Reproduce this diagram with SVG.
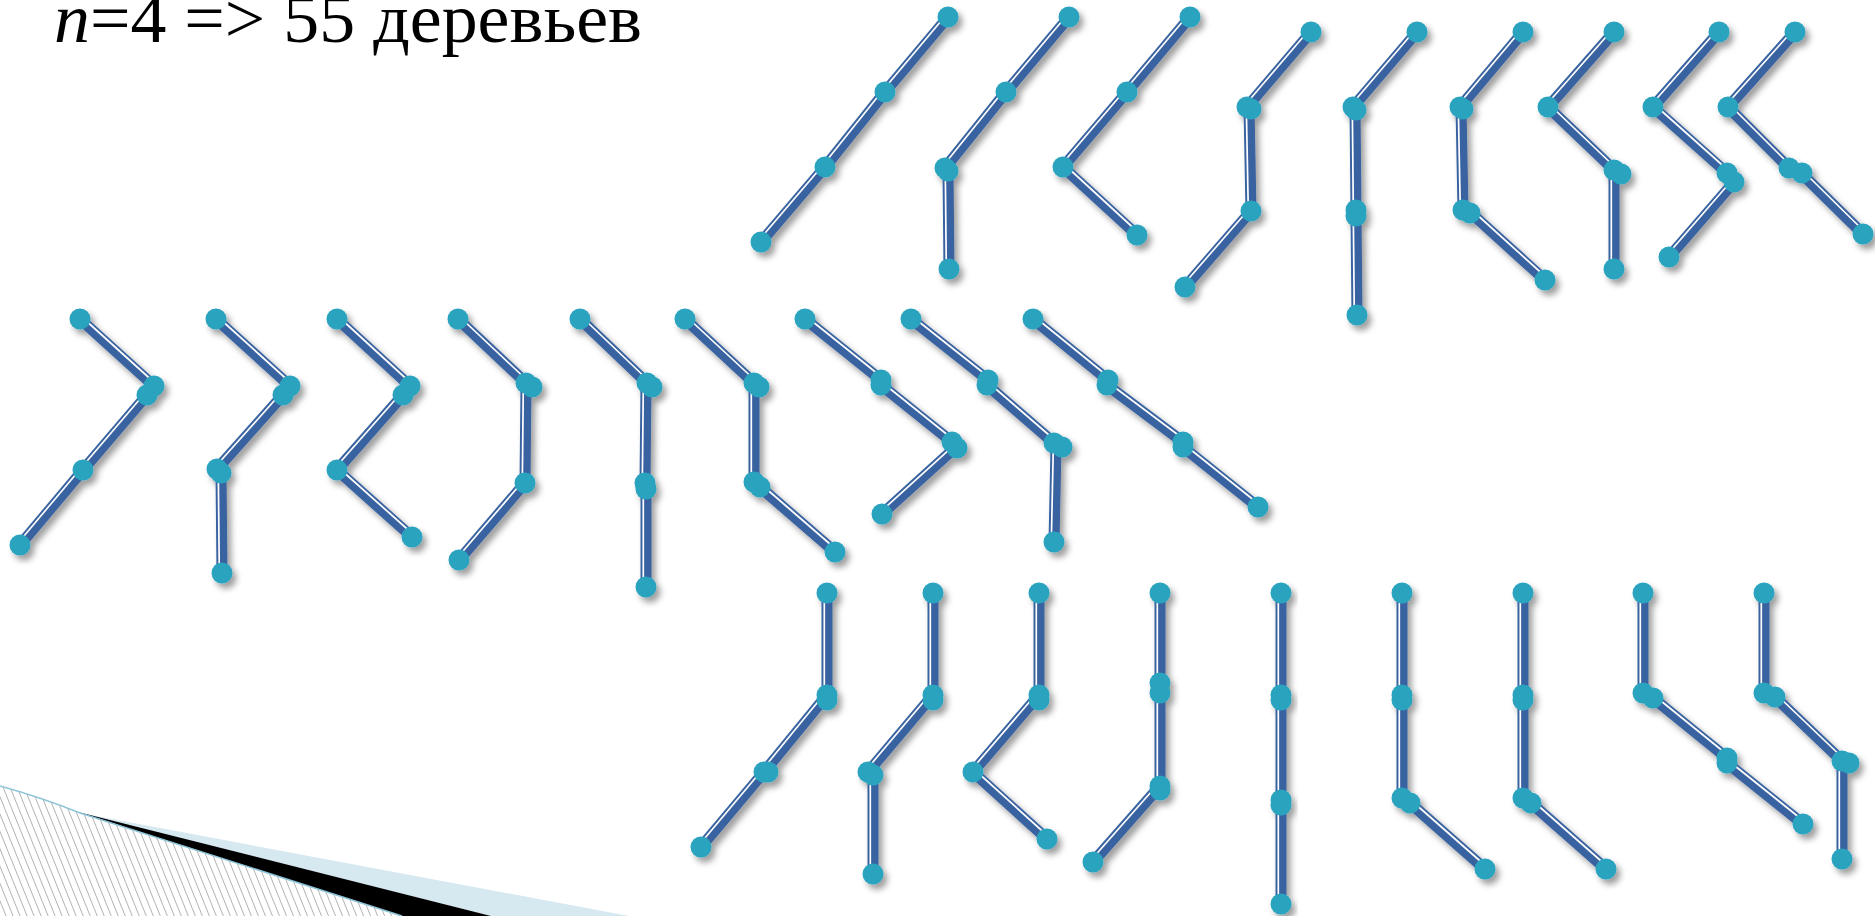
<svg xmlns="http://www.w3.org/2000/svg" width="1875" height="916" viewBox="0 0 1875 916">
<style>
.e{stroke:#3862A0;stroke-width:11;fill:none}
.w{stroke:#ffffff;stroke-width:1.7;fill:none}
.v{transform:translate(-2.7px,0)}
.l{transform:translate(-2.1px,-1.7px)}
.r{transform:translate(1.9px,-2px)}
.n{fill:#2BA3BF}
.t{font-family:"Liberation Serif","Times New Roman",serif;font-size:70px;fill:#000}
</style>
<defs>
<filter id="sh" x="-20%" y="-20%" width="150%" height="150%">
<feDropShadow dx="4" dy="5" stdDeviation="3" flood-color="#000" flood-opacity="0.38"/>
</filter>
<pattern id="hatch" patternUnits="userSpaceOnUse" width="6.5" height="20" patternTransform="rotate(-22)">
<rect width="6.5" height="20" fill="#fff"/>
<line x1="0.5" y1="0" x2="0.5" y2="20" stroke="#a0a0a0" stroke-width="0.8"/>
</pattern>
</defs>
<rect width="1875" height="916" fill="#fff"/>

<g id="decor">
<path d="M0,786 Q40,797 80,813 L402,916 L0,916 Z" fill="url(#hatch)"/>
<path d="M80,813 L629,916 L491,916 Z" fill="#D6E8F0"/>
<path d="M78,812 L491,916 L402,916 Z" fill="#000"/>
<path d="M0,786 Q40,797 80,813 L402,916" fill="none" stroke="#8CC4D8" stroke-width="1.5"/>
</g>

<text id="title" class="t" x="54" y="42" textLength="588" lengthAdjust="spacingAndGlyphs"><tspan font-style="italic">n</tspan>=4 =&gt; 55 деревьев</text>

<!-- top row -->
<g id="t1" filter="url(#sh)">
<g class="conn">
<line class="e" x1="948" y1="17" x2="885" y2="92"/><line class="w l" x1="948" y1="17" x2="885" y2="92"/>
<line class="e" x1="885" y1="92" x2="825" y2="167"/><line class="w l" x1="885" y1="92" x2="825" y2="167"/>
<line class="e" x1="825" y1="167" x2="761" y2="242"/><line class="w l" x1="825" y1="167" x2="761" y2="242"/>
</g>
<circle class="n" cx="948" cy="17" r="10.5"/><circle class="n" cx="885" cy="92" r="10.5"/><circle class="n" cx="825" cy="167" r="10.5"/><circle class="n" cx="761" cy="242" r="10.5"/>
</g>
<g id="t2" filter="url(#sh)">
<g class="conn">
<line class="e" x1="1069" y1="17" x2="1006" y2="92"/><line class="w l" x1="1069" y1="17" x2="1006" y2="92"/>
<line class="e" x1="1006" y1="92" x2="945" y2="168"/><line class="w l" x1="1006" y1="92" x2="945" y2="168"/>
<line class="e" x1="948" y1="171" x2="949" y2="269"/><line class="w v" x1="948" y1="171" x2="949" y2="269"/>
</g>
<circle class="n" cx="1069" cy="17" r="10.5"/><circle class="n" cx="1006" cy="92" r="10.5"/><circle class="n" cx="948" cy="171" r="10.5"/><circle class="n" cx="945" cy="168" r="10.5"/><circle class="n" cx="949" cy="269" r="10.5"/>
</g>
<g id="t3" filter="url(#sh)">
<g class="conn">
<line class="e" x1="1190" y1="17" x2="1127" y2="92"/><line class="w l" x1="1190" y1="17" x2="1127" y2="92"/>
<line class="e" x1="1127" y1="92" x2="1063" y2="167"/><line class="w l" x1="1127" y1="92" x2="1063" y2="167"/>
<line class="e" x1="1063" y1="167" x2="1137" y2="235"/><line class="w r" x1="1063" y1="167" x2="1137" y2="235"/>
</g>
<circle class="n" cx="1190" cy="17" r="10.5"/><circle class="n" cx="1127" cy="92" r="10.5"/><circle class="n" cx="1063" cy="167" r="10.5"/><circle class="n" cx="1137" cy="235" r="10.5"/>
</g>
<g id="t4" filter="url(#sh)">
<g class="conn">
<line class="e" x1="1311" y1="32" x2="1247" y2="107"/><line class="w l" x1="1311" y1="32" x2="1247" y2="107"/>
<line class="e" x1="1249" y1="107" x2="1251" y2="211"/><line class="w v" x1="1249" y1="107" x2="1251" y2="211"/>
<line class="e" x1="1251" y1="211" x2="1185" y2="287"/><line class="w l" x1="1251" y1="211" x2="1185" y2="287"/>
</g>
<circle class="n" cx="1311" cy="32" r="10.5"/><circle class="n" cx="1247" cy="107" r="10.5"/><circle class="n" cx="1251" cy="109" r="10.5"/><circle class="n" cx="1251" cy="211" r="10.5"/><circle class="n" cx="1185" cy="287" r="10.5"/>
</g>
<g id="t5" filter="url(#sh)">
<g class="conn">
<line class="e" x1="1417" y1="32" x2="1353" y2="107"/><line class="w l" x1="1417" y1="32" x2="1353" y2="107"/>
<line class="e" x1="1355" y1="107" x2="1356" y2="210"/><line class="w v" x1="1355" y1="107" x2="1356" y2="210"/>
<line class="e" x1="1356" y1="215" x2="1357" y2="315"/><line class="w v" x1="1356" y1="215" x2="1357" y2="315"/>
</g>
<circle class="n" cx="1417" cy="32" r="10.5"/><circle class="n" cx="1353" cy="107" r="10.5"/><circle class="n" cx="1356" cy="110" r="10.5"/><circle class="n" cx="1356" cy="210" r="10.5"/><circle class="n" cx="1356" cy="216" r="10.5"/><circle class="n" cx="1357" cy="315" r="10.5"/>
</g>
<g id="t6" filter="url(#sh)">
<g class="conn">
<line class="e" x1="1523" y1="32" x2="1460" y2="107"/><line class="w l" x1="1523" y1="32" x2="1460" y2="107"/>
<line class="e" x1="1461" y1="107" x2="1463" y2="210"/><line class="w v" x1="1461" y1="107" x2="1463" y2="210"/>
<line class="e" x1="1471" y1="213" x2="1545" y2="280"/><line class="w r" x1="1471" y1="213" x2="1545" y2="280"/>
</g>
<circle class="n" cx="1523" cy="32" r="10.5"/><circle class="n" cx="1460" cy="107" r="10.5"/><circle class="n" cx="1463" cy="109" r="10.5"/><circle class="n" cx="1463" cy="210" r="10.5"/><circle class="n" cx="1470" cy="213" r="10.5"/><circle class="n" cx="1545" cy="280" r="10.5"/>
</g>
<g id="t7" filter="url(#sh)">
<g class="conn">
<line class="e" x1="1614" y1="32" x2="1548" y2="107"/><line class="w l" x1="1614" y1="32" x2="1548" y2="107"/>
<line class="e" x1="1548" y1="107" x2="1614" y2="170"/><line class="w r" x1="1548" y1="107" x2="1614" y2="170"/>
<line class="e" x1="1614" y1="174" x2="1614" y2="269"/><line class="w v" x1="1614" y1="174" x2="1614" y2="269"/>
</g>
<circle class="n" cx="1614" cy="32" r="10.5"/><circle class="n" cx="1548" cy="107" r="10.5"/><circle class="n" cx="1621" cy="174" r="10.5"/><circle class="n" cx="1614" cy="170" r="10.5"/><circle class="n" cx="1614" cy="269" r="10.5"/>
</g>
<g id="t8" filter="url(#sh)">
<g class="conn">
<line class="e" x1="1719" y1="32" x2="1653" y2="107"/><line class="w l" x1="1719" y1="32" x2="1653" y2="107"/>
<line class="e" x1="1653" y1="107" x2="1727" y2="173"/><line class="w r" x1="1653" y1="107" x2="1727" y2="173"/>
<line class="e" x1="1734" y1="182" x2="1669" y2="257"/><line class="w l" x1="1734" y1="182" x2="1669" y2="257"/>
</g>
<circle class="n" cx="1719" cy="32" r="10.5"/><circle class="n" cx="1653" cy="107" r="10.5"/><circle class="n" cx="1727" cy="173" r="10.5"/><circle class="n" cx="1734" cy="182" r="10.5"/><circle class="n" cx="1669" cy="257" r="10.5"/>
</g>
<g id="t9" filter="url(#sh)">
<g class="conn">
<line class="e" x1="1795" y1="32" x2="1728" y2="107"/><line class="w l" x1="1795" y1="32" x2="1728" y2="107"/>
<line class="e" x1="1728" y1="107" x2="1789" y2="168"/><line class="w r" x1="1728" y1="107" x2="1789" y2="168"/>
<line class="e" x1="1800" y1="172" x2="1863" y2="234"/><line class="w r" x1="1800" y1="172" x2="1863" y2="234"/>
</g>
<circle class="n" cx="1795" cy="32" r="10.5"/><circle class="n" cx="1728" cy="107" r="10.5"/><circle class="n" cx="1802" cy="173" r="10.5"/><circle class="n" cx="1789" cy="168" r="10.5"/><circle class="n" cx="1863" cy="234" r="10.5"/>
</g>

<!-- middle row -->
<g id="m1" filter="url(#sh)">
<g class="conn">
<line class="e" x1="80" y1="319" x2="154" y2="386"/><line class="w r" x1="80" y1="319" x2="154" y2="386"/>
<line class="e" x1="147" y1="395" x2="83" y2="470"/><line class="w l" x1="147" y1="395" x2="83" y2="470"/>
<line class="e" x1="83" y1="470" x2="20" y2="545"/><line class="w l" x1="83" y1="470" x2="20" y2="545"/>
</g>
<circle class="n" cx="80" cy="319" r="10.5"/><circle class="n" cx="154" cy="386" r="10.5"/><circle class="n" cx="147" cy="395" r="10.5"/><circle class="n" cx="83" cy="470" r="10.5"/><circle class="n" cx="20" cy="545" r="10.5"/>
</g>
<g id="m2" filter="url(#sh)">
<g class="conn">
<line class="e" x1="216" y1="319" x2="290" y2="386"/><line class="w r" x1="216" y1="319" x2="290" y2="386"/>
<line class="e" x1="283" y1="395" x2="217" y2="469"/><line class="w l" x1="283" y1="395" x2="217" y2="469"/>
<line class="e" x1="221" y1="473" x2="222" y2="573"/><line class="w v" x1="221" y1="473" x2="222" y2="573"/>
</g>
<circle class="n" cx="216" cy="319" r="10.5"/><circle class="n" cx="290" cy="386" r="10.5"/><circle class="n" cx="283" cy="395" r="10.5"/><circle class="n" cx="221" cy="473" r="10.5"/><circle class="n" cx="217" cy="469" r="10.5"/><circle class="n" cx="222" cy="573" r="10.5"/>
</g>
<g id="m3" filter="url(#sh)">
<g class="conn">
<line class="e" x1="337" y1="319" x2="410" y2="386"/><line class="w r" x1="337" y1="319" x2="410" y2="386"/>
<line class="e" x1="403" y1="395" x2="337" y2="470"/><line class="w l" x1="403" y1="395" x2="337" y2="470"/>
<line class="e" x1="337" y1="470" x2="412" y2="537"/><line class="w r" x1="337" y1="470" x2="412" y2="537"/>
</g>
<circle class="n" cx="337" cy="319" r="10.5"/><circle class="n" cx="410" cy="386" r="10.5"/><circle class="n" cx="403" cy="395" r="10.5"/><circle class="n" cx="337" cy="470" r="10.5"/><circle class="n" cx="412" cy="537" r="10.5"/>
</g>
<g id="m4" filter="url(#sh)">
<g class="conn">
<line class="e" x1="458" y1="319" x2="526" y2="383"/><line class="w r" x1="458" y1="319" x2="526" y2="383"/>
<line class="e" x1="526" y1="386" x2="525" y2="483"/><line class="w v" x1="526" y1="386" x2="525" y2="483"/>
<line class="e" x1="525" y1="483" x2="459" y2="560"/><line class="w l" x1="525" y1="483" x2="459" y2="560"/>
</g>
<circle class="n" cx="458" cy="319" r="10.5"/><circle class="n" cx="532" cy="387" r="10.5"/><circle class="n" cx="526" cy="383" r="10.5"/><circle class="n" cx="525" cy="483" r="10.5"/><circle class="n" cx="459" cy="560" r="10.5"/>
</g>
<g id="m5" filter="url(#sh)">
<g class="conn">
<line class="e" x1="580" y1="319" x2="647" y2="383"/><line class="w r" x1="580" y1="319" x2="647" y2="383"/>
<line class="e" x1="646" y1="386" x2="645" y2="483"/><line class="w v" x1="646" y1="386" x2="645" y2="483"/>
<line class="e" x1="646" y1="488" x2="646" y2="587"/><line class="w v" x1="646" y1="488" x2="646" y2="587"/>
</g>
<circle class="n" cx="580" cy="319" r="10.5"/><circle class="n" cx="652" cy="387" r="10.5"/><circle class="n" cx="647" cy="383" r="10.5"/><circle class="n" cx="645" cy="483" r="10.5"/><circle class="n" cx="646" cy="489" r="10.5"/><circle class="n" cx="646" cy="587" r="10.5"/>
</g>
<g id="m6" filter="url(#sh)">
<g class="conn">
<line class="e" x1="685" y1="319" x2="754" y2="383"/><line class="w r" x1="685" y1="319" x2="754" y2="383"/>
<line class="e" x1="754" y1="386" x2="754" y2="482"/><line class="w v" x1="754" y1="386" x2="754" y2="482"/>
<line class="e" x1="760" y1="487" x2="835" y2="552"/><line class="w r" x1="760" y1="487" x2="835" y2="552"/>
</g>
<circle class="n" cx="685" cy="319" r="10.5"/><circle class="n" cx="759" cy="387" r="10.5"/><circle class="n" cx="754" cy="383" r="10.5"/><circle class="n" cx="754" cy="482" r="10.5"/><circle class="n" cx="760" cy="487" r="10.5"/><circle class="n" cx="835" cy="552" r="10.5"/>
</g>
<g id="m7" filter="url(#sh)">
<g class="conn">
<line class="e" x1="805" y1="319" x2="881" y2="380"/><line class="w r" x1="805" y1="319" x2="881" y2="380"/>
<line class="e" x1="881" y1="385" x2="952" y2="442"/><line class="w r" x1="881" y1="385" x2="952" y2="442"/>
<line class="e" x1="956" y1="447" x2="882" y2="514"/><line class="w l" x1="956" y1="447" x2="882" y2="514"/>
</g>
<circle class="n" cx="805" cy="319" r="10.5"/><circle class="n" cx="881" cy="385" r="10.5"/><circle class="n" cx="881" cy="380" r="10.5"/><circle class="n" cx="952" cy="442" r="10.5"/><circle class="n" cx="957" cy="448" r="10.5"/><circle class="n" cx="882" cy="514" r="10.5"/>
</g>
<g id="m8" filter="url(#sh)">
<g class="conn">
<line class="e" x1="911" y1="319" x2="988" y2="380"/><line class="w r" x1="911" y1="319" x2="988" y2="380"/>
<line class="e" x1="987" y1="385" x2="1054" y2="443"/><line class="w r" x1="987" y1="385" x2="1054" y2="443"/>
<line class="e" x1="1056" y1="447" x2="1054" y2="542"/><line class="w v" x1="1056" y1="447" x2="1054" y2="542"/>
</g>
<circle class="n" cx="911" cy="319" r="10.5"/><circle class="n" cx="987" cy="385" r="10.5"/><circle class="n" cx="988" cy="380" r="10.5"/><circle class="n" cx="1062" cy="447" r="10.5"/><circle class="n" cx="1054" cy="443" r="10.5"/><circle class="n" cx="1054" cy="542" r="10.5"/>
</g>
<g id="m9" filter="url(#sh)">
<g class="conn">
<line class="e" x1="1033" y1="319" x2="1108" y2="380"/><line class="w r" x1="1033" y1="319" x2="1108" y2="380"/>
<line class="e" x1="1107" y1="385" x2="1183" y2="442"/><line class="w r" x1="1107" y1="385" x2="1183" y2="442"/>
<line class="e" x1="1183" y1="447" x2="1258" y2="507"/><line class="w r" x1="1183" y1="447" x2="1258" y2="507"/>
</g>
<circle class="n" cx="1033" cy="319" r="10.5"/><circle class="n" cx="1107" cy="385" r="10.5"/><circle class="n" cx="1108" cy="380" r="10.5"/><circle class="n" cx="1183" cy="447" r="10.5"/><circle class="n" cx="1183" cy="442" r="10.5"/><circle class="n" cx="1258" cy="507" r="10.5"/>
</g>

<!-- bottom row -->
<g id="b1" filter="url(#sh)">
<g class="conn">
<line class="e" x1="827" y1="593" x2="827" y2="695"/><line class="w v" x1="827" y1="593" x2="827" y2="695"/>
<line class="e" x1="827" y1="695" x2="764" y2="772"/><line class="w l" x1="827" y1="695" x2="764" y2="772"/>
<line class="e" x1="764" y1="772" x2="701" y2="847"/><line class="w l" x1="764" y1="772" x2="701" y2="847"/>
</g>
<circle class="n" cx="827" cy="593" r="10.5"/><circle class="n" cx="827" cy="695" r="10.5"/><circle class="n" cx="827" cy="700" r="10.5"/><circle class="n" cx="764" cy="772" r="10.5"/><circle class="n" cx="768" cy="772" r="10.5"/><circle class="n" cx="701" cy="847" r="10.5"/>
</g>
<g id="b2" filter="url(#sh)">
<g class="conn">
<line class="e" x1="933" y1="593" x2="933" y2="695"/><line class="w v" x1="933" y1="593" x2="933" y2="695"/>
<line class="e" x1="933" y1="695" x2="868" y2="772"/><line class="w l" x1="933" y1="695" x2="868" y2="772"/>
<line class="e" x1="873" y1="775" x2="873" y2="874"/><line class="w v" x1="873" y1="775" x2="873" y2="874"/>
</g>
<circle class="n" cx="933" cy="593" r="10.5"/><circle class="n" cx="933" cy="695" r="10.5"/><circle class="n" cx="933" cy="700" r="10.5"/><circle class="n" cx="873" cy="775" r="10.5"/><circle class="n" cx="868" cy="772" r="10.5"/><circle class="n" cx="873" cy="874" r="10.5"/>
</g>
<g id="b3" filter="url(#sh)">
<g class="conn">
<line class="e" x1="1039" y1="593" x2="1039" y2="695"/><line class="w v" x1="1039" y1="593" x2="1039" y2="695"/>
<line class="e" x1="1039" y1="695" x2="973" y2="772"/><line class="w l" x1="1039" y1="695" x2="973" y2="772"/>
<line class="e" x1="973" y1="772" x2="1047" y2="839"/><line class="w r" x1="973" y1="772" x2="1047" y2="839"/>
</g>
<circle class="n" cx="1039" cy="593" r="10.5"/><circle class="n" cx="1039" cy="695" r="10.5"/><circle class="n" cx="1039" cy="700" r="10.5"/><circle class="n" cx="973" cy="772" r="10.5"/><circle class="n" cx="1047" cy="839" r="10.5"/>
</g>
<g id="b4" filter="url(#sh)">
<g class="conn">
<line class="e" x1="1160" y1="593" x2="1160" y2="683"/><line class="w v" x1="1160" y1="593" x2="1160" y2="683"/>
<line class="e" x1="1160" y1="693" x2="1160" y2="786"/><line class="w v" x1="1160" y1="693" x2="1160" y2="786"/>
<line class="e" x1="1160" y1="786" x2="1093" y2="862"/><line class="w l" x1="1160" y1="786" x2="1093" y2="862"/>
</g>
<circle class="n" cx="1160" cy="593" r="10.5"/><circle class="n" cx="1160" cy="693" r="10.5"/><circle class="n" cx="1160" cy="683" r="10.5"/><circle class="n" cx="1160" cy="786" r="10.5"/><circle class="n" cx="1160" cy="790" r="10.5"/><circle class="n" cx="1093" cy="862" r="10.5"/>
</g>
<g id="b5" filter="url(#sh)">
<g class="conn">
<line class="e" x1="1281" y1="593" x2="1281" y2="695"/><line class="w v" x1="1281" y1="593" x2="1281" y2="695"/>
<line class="e" x1="1281" y1="700" x2="1281" y2="800"/><line class="w v" x1="1281" y1="700" x2="1281" y2="800"/>
<line class="e" x1="1281" y1="805" x2="1281" y2="904"/><line class="w v" x1="1281" y1="805" x2="1281" y2="904"/>
</g>
<circle class="n" cx="1281" cy="593" r="10.5"/><circle class="n" cx="1281" cy="695" r="10.5"/><circle class="n" cx="1281" cy="700" r="10.5"/><circle class="n" cx="1281" cy="800" r="10.5"/><circle class="n" cx="1281" cy="805" r="10.5"/><circle class="n" cx="1281" cy="904" r="10.5"/>
</g>
<g id="b6" filter="url(#sh)">
<g class="conn">
<line class="e" x1="1402" y1="593" x2="1402" y2="695"/><line class="w v" x1="1402" y1="593" x2="1402" y2="695"/>
<line class="e" x1="1402" y1="700" x2="1402" y2="798"/><line class="w v" x1="1402" y1="700" x2="1402" y2="798"/>
<line class="e" x1="1410" y1="803" x2="1485" y2="869"/><line class="w r" x1="1410" y1="803" x2="1485" y2="869"/>
</g>
<circle class="n" cx="1402" cy="593" r="10.5"/><circle class="n" cx="1402" cy="695" r="10.5"/><circle class="n" cx="1402" cy="700" r="10.5"/><circle class="n" cx="1402" cy="798" r="10.5"/><circle class="n" cx="1410" cy="803" r="10.5"/><circle class="n" cx="1485" cy="869" r="10.5"/>
</g>
<g id="b7" filter="url(#sh)">
<g class="conn">
<line class="e" x1="1523" y1="593" x2="1523" y2="695"/><line class="w v" x1="1523" y1="593" x2="1523" y2="695"/>
<line class="e" x1="1523" y1="700" x2="1523" y2="798"/><line class="w v" x1="1523" y1="700" x2="1523" y2="798"/>
<line class="e" x1="1531" y1="803" x2="1606" y2="869"/><line class="w r" x1="1531" y1="803" x2="1606" y2="869"/>
</g>
<circle class="n" cx="1523" cy="593" r="10.5"/><circle class="n" cx="1523" cy="695" r="10.5"/><circle class="n" cx="1523" cy="700" r="10.5"/><circle class="n" cx="1523" cy="798" r="10.5"/><circle class="n" cx="1531" cy="803" r="10.5"/><circle class="n" cx="1606" cy="869" r="10.5"/>
</g>
<g id="b8" filter="url(#sh)">
<g class="conn">
<line class="e" x1="1643" y1="593" x2="1643" y2="693"/><line class="w v" x1="1643" y1="593" x2="1643" y2="693"/>
<line class="e" x1="1653" y1="698" x2="1727" y2="758"/><line class="w r" x1="1653" y1="698" x2="1727" y2="758"/>
<line class="e" x1="1727" y1="763" x2="1803" y2="824"/><line class="w r" x1="1727" y1="763" x2="1803" y2="824"/>
</g>
<circle class="n" cx="1643" cy="593" r="10.5"/><circle class="n" cx="1643" cy="693" r="10.5"/><circle class="n" cx="1653" cy="698" r="10.5"/><circle class="n" cx="1727" cy="763" r="10.5"/><circle class="n" cx="1727" cy="758" r="10.5"/><circle class="n" cx="1803" cy="824" r="10.5"/>
</g>
<g id="b9" filter="url(#sh)">
<g class="conn">
<line class="e" x1="1764" y1="593" x2="1764" y2="693"/><line class="w v" x1="1764" y1="593" x2="1764" y2="693"/>
<line class="e" x1="1775" y1="697" x2="1842" y2="761"/><line class="w r" x1="1775" y1="697" x2="1842" y2="761"/>
<line class="e" x1="1842" y1="763" x2="1842" y2="859"/><line class="w v" x1="1842" y1="763" x2="1842" y2="859"/>
</g>
<circle class="n" cx="1764" cy="593" r="10.5"/><circle class="n" cx="1764" cy="693" r="10.5"/><circle class="n" cx="1775" cy="697" r="10.5"/><circle class="n" cx="1849" cy="763" r="10.5"/><circle class="n" cx="1842" cy="761" r="10.5"/><circle class="n" cx="1842" cy="859" r="10.5"/>
</g>
</svg>
